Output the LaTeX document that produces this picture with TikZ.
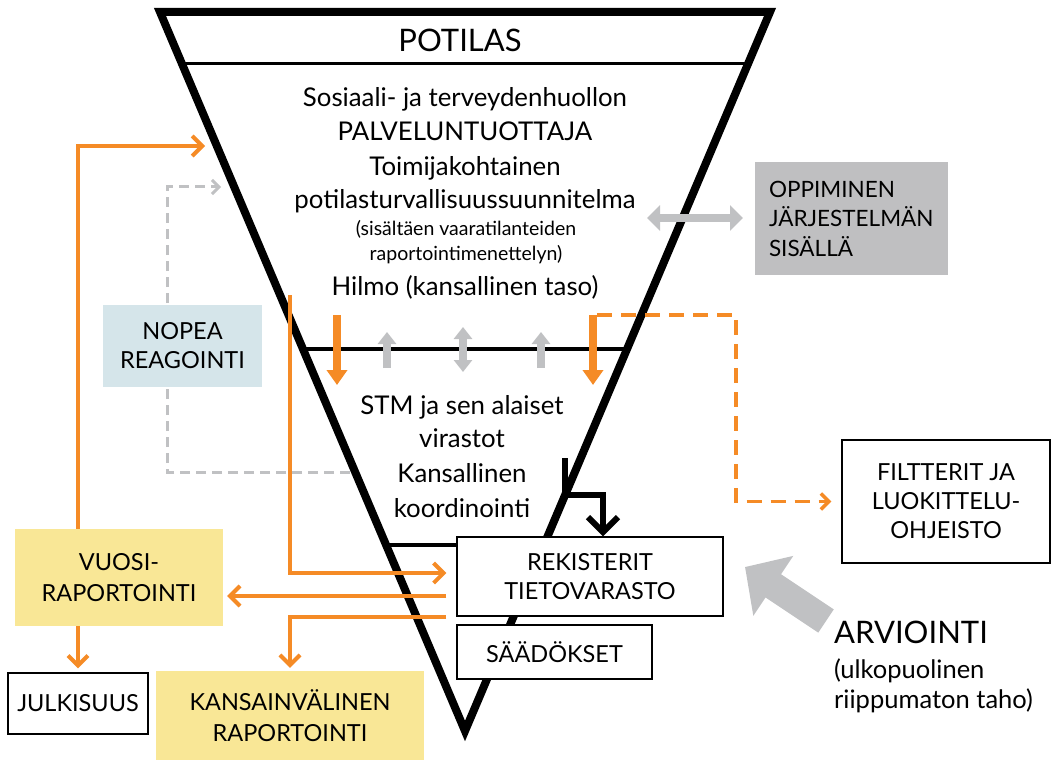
\documentclass[tikz,border=0pt]{standalone}
\usepackage{fontspec}
\setmainfont{Lato}
\usetikzlibrary{arrows.meta}
\definecolor{ora}{RGB}{245,139,38}
\definecolor{gry}{RGB}{192,193,195}
\definecolor{gbox}{RGB}{191,191,193}
\definecolor{lblue}{RGB}{213,229,234}
\definecolor{yel}{RGB}{249,231,150}
\tikzset{
  txt/.style={font=\fontsize{25.8}{29}\selectfont, anchor=base, inner sep=0},
  small/.style={font=\fontsize{19.5}{22}\selectfont, anchor=base, inner sep=0},
  box/.style={draw=black, line width=1.2pt, fill=white, align=center, inner sep=0,
              font=\fontsize{23.5}{29}\selectfont},
  fillbox/.style={draw=none, align=center, inner sep=0, font=\fontsize{23.5}{31}\selectfont},
  oline/.style={draw=ora, line width=4pt, -{Straight Barb[length=10pt,width=20pt]}},
  odash/.style={draw=ora, line width=3.5pt, dash pattern=on 15pt off 9pt,
                -{Straight Barb[length=8pt,width=16pt]}},
  gdash/.style={draw=gry, line width=3pt, dash pattern=on 10pt off 6pt,
                -{Straight Barb[length=7pt,width=14pt]}},
  oblock/.style={draw=ora, line width=8pt, -{Triangle[length=15pt,width=20pt]}},
  gblock/.style={draw=gry, line width=8pt, -{Triangle[length=12pt,width=18pt]}},
  gboth/.style={draw=gry, line width=8pt, {Triangle[length=12pt,width=18pt]}-{Triangle[length=12pt,width=18pt]}},
  blk/.style={draw=black, line width=6pt, -{Straight Barb[length=15pt,width=30pt]}},
}
\begin{document}
\begin{tikzpicture}[x=1pt,y=-1pt]
\useasboundingbox (0,0) rectangle (1052,762);

% level dividers inside the funnel
\draw[line width=3pt] (182,64) -- (748,64);
\draw[line width=4pt] (303,349) -- (627,349);

% the funnel
\coordinate (T1) at (160,12);
\coordinate (T2) at (770,12);
\coordinate (T3) at (465,731);
\draw[line width=8pt, line join=miter] (T1) -- (T2) -- (T3) -- cycle;

% funnel texts
\node[txt, font=\fontsize{31}{34}\selectfont] (potilas) at (460,52) {POTILAS};
\node[txt] (l1) at (465,107) {Sosiaali- ja terveydenhuollon};
\node[txt] (l2) at (465,141) {PALVELUNTUOTTAJA};
\node[txt] (l3) at (465,176) {Toimijakohtainen};
\node[txt] (l4) at (465,208) {potilasturvallisuussuunnitelma};
\node[small] (l5) at (466,236) {(sisältäen vaaratilanteiden};
\node[small] (l6) at (466,260) {raportointimenettelyn)};
\node[txt] (l7) at (465,295) {Hilmo (kansallinen taso)};
\node[txt] (s1) at (462,414) {STM ja sen alaiset};
\node[txt] (s2) at (462,447) {virastot};
\node[txt] (s3) at (462,482) {Kansallinen};
\node[txt] (s4) at (462,517) {koordinointi};

% quick reaction loop (behind its box)
\coordinate (g1) at (350,472);
\coordinate (gc) at (167,187);
\coordinate (g2) at (221,187);
\draw[gdash] (g1) -| (gc) -- (g2);
\node[fillbox, fill=lblue, minimum width=159pt, minimum height=82pt, font=\fontsize{23.5}{29}\selectfont] (nopea) at (182.5,346) {NOPEA\\REAGOINTI};

% side boxes
\node[fillbox, fill=gbox, minimum width=193pt, minimum height=113pt, text width=165pt,
      align=left, font=\fontsize{22.5}{29.5}\selectfont] (opp) at (851.5,218.5) {OPPIMINEN\\JÄRJESTELMÄN\\SISÄLLÄ};
\node[box] (filt) at (946,501.5) [minimum width=208pt, minimum height=123pt] {FILTTERIT JA\\LUOKITTELU-\\OHJEISTO};
\node[fillbox, fill=yel, minimum width=208pt, minimum height=97pt] (vuosi) at (119,577.5) {VUOSI-\\RAPORTOINTI};
\node[box] (julk) at (78,703.5) [minimum width=140pt, minimum height=61pt] {JULKISUUS};
\node[fillbox, fill=yel, minimum width=268pt, minimum height=89pt] (kans) at (290,715.5) {KANSAINVÄLINEN\\RAPORTOINTI};

% lowest divider and registry boxes
\node[box] (rek) at (590,576.5) [minimum width=266pt, minimum height=79pt] {REKISTERIT\\TIETOVARASTO};
\node[box] (saad) at (554.5,652) [minimum width=195pt, minimum height=54pt] {SÄÄDÖKSET};
\draw[line width=4pt] (386,545) -- (rek.west |- 0,545);

% assessment
\node[anchor=base west, inner sep=0, font=\fontsize{31}{34}\selectfont] (arv) at (834,643) {ARVIOINTI};
\node[anchor=base west, inner sep=0, font=\fontsize{25.5}{29}\selectfont] (arv2) at (834,678) {(ulkopuolinen};
\node[anchor=base west, inner sep=0, font=\fontsize{25.5}{29}\selectfont] (arv3) at (834,708) {riippumaton taho)};
\coordinate (atail) at (826,621);
\coordinate (atip) at (745,567);
\draw[gry, line width=28pt, -{Triangle[length=34pt,width=70pt]}] (atail) -- (atip);

% learning arrow
\coordinate (h1) at (647,218);
\coordinate (h2) at (743,218);
\draw[gboth, line width=8pt, {Triangle[length=13pt,width=25pt]}-{Triangle[length=13pt,width=25pt]}] (h1) -- (h2);

% arrows between the two levels
\coordinate (oa1) at (337,315); \coordinate (ob1) at (337,385);
\coordinate (oa2) at (593,315); \coordinate (ob2) at (593,385);
\draw[oblock] (oa1) -- (ob1);
\draw[oblock] (oa2) -- (ob2);
\draw[gblock] (387,368) -- (387,332);
\draw[gboth] (463,327) -- (463,372);
\draw[gblock] (541,368) -- (541,332);

% filter path
\coordinate (dstart) at (597,315);
\coordinate (dcorner) at (736,315);
\draw[odash, shorten >=10pt] (dstart) -- (dcorner) |- (filt.west);

% coordination to registries
\coordinate (kb) at (565,458);
\coordinate (kbend) at (603,495);
\draw[blk] (kb) |- (kbend) -- ([xshift=13pt]rek.north);

% reporting flows
\coordinate (hilmo) at (290,295);
\draw[oline, shorten >=10pt] (hilmo) |- ([yshift=3.5pt]rek.west);
\coordinate (r2) at ([yshift=-19.5pt]rek.west);
\draw[oline, shorten <=10pt, shorten >=4pt] (r2) -- (vuosi.east |- r2);
\coordinate (r3) at ([yshift=-40.5pt]rek.west);
\draw[oline, shorten <=10pt, shorten >=3pt] (r3) -| (kans.north);
\coordinate (ptop) at (205,146);
\draw[oline] ([xshift=-41pt]vuosi.north) |- (ptop);
\draw[oline, shorten >=4pt] (julk.north |- vuosi.south) -- (julk.north);
\end{tikzpicture}
\end{document}
